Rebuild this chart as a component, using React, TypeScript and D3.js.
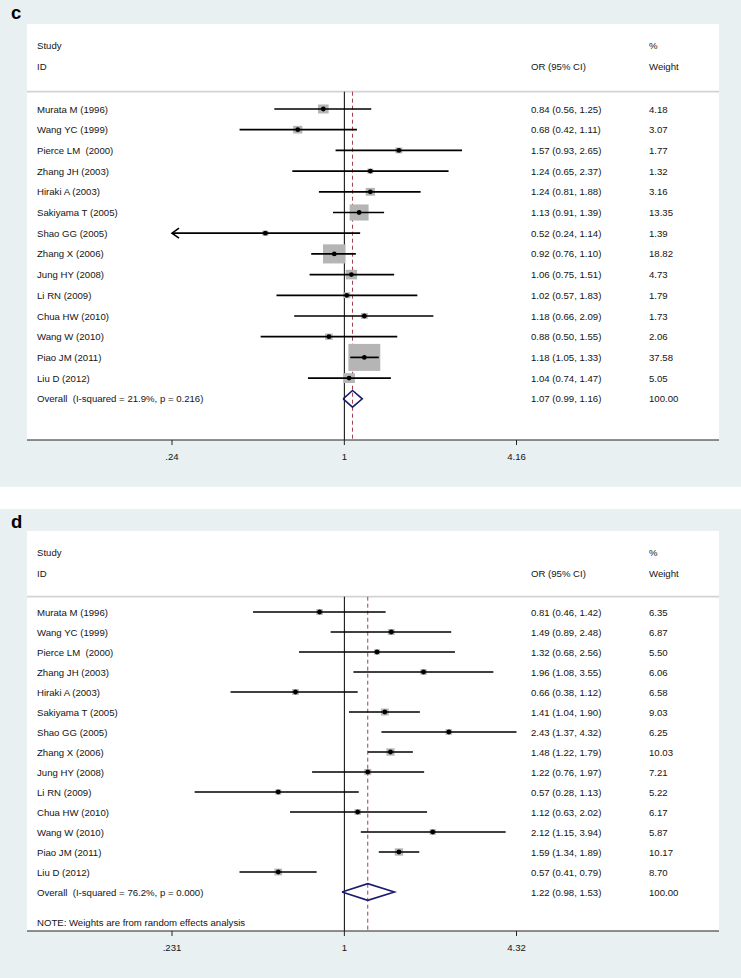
import React from "react";
import * as d3 from "d3";

// ---------- data ----------
const studies = [
  "Murata M (1996)",
  "Wang YC (1999)",
  "Pierce LM  (2000)",
  "Zhang JH (2003)",
  "Hiraki A (2003)",
  "Sakiyama T (2005)",
  "Shao GG (2005)",
  "Zhang X (2006)",
  "Jung HY (2008)",
  "Li RN (2009)",
  "Chua HW (2010)",
  "Wang W (2010)",
  "Piao JM (2011)",
  "Liu D (2012)",
];

const cOR = [0.84, 0.68, 1.57, 1.24, 1.24, 1.13, 0.52, 0.92, 1.06, 1.02, 1.18, 0.88, 1.18, 1.04];
const cLow = [0.56, 0.42, 0.93, 0.65, 0.81, 0.91, 0.238, 0.76, 0.75, 0.57, 0.66, 0.5, 1.05, 0.74];
const cHigh = [1.25, 1.11, 2.65, 2.37, 1.88, 1.39, 1.14, 1.1, 1.51, 1.83, 2.09, 1.55, 1.33, 1.47];
const cWeight = [4.18, 3.07, 1.77, 1.32, 3.16, 13.35, 1.39, 18.82, 4.73, 1.79, 1.73, 2.06, 37.58, 5.05];
const cOverall = [1.07, 0.99, 1.16];
const cOverallWeight = 100.0;
const cOverallLabel = "Overall  (I-squared = 21.9%, p = 0.216)";
const cTickValues = [0.24, 1, 4.16];
const cTickLabels = [".24", "1", "4.16"];

const dOR = [0.81, 1.49, 1.32, 1.96, 0.66, 1.41, 2.43, 1.48, 1.22, 0.57, 1.12, 2.12, 1.59, 0.57];
const dLow = [0.46, 0.89, 0.68, 1.08, 0.38, 1.04, 1.37, 1.22, 0.76, 0.28, 0.63, 1.15, 1.34, 0.41];
const dHigh = [1.42, 2.48, 2.56, 3.55, 1.12, 1.9, 4.32, 1.79, 1.97, 1.13, 2.02, 3.94, 1.89, 0.79];
const dWeight = [6.35, 6.87, 5.5, 6.06, 6.58, 9.03, 6.25, 10.03, 7.21, 5.22, 6.17, 5.87, 10.17, 8.7];
const dOverall = [1.22, 0.98, 1.53];
const dOverallWeight = 100.0;
const dOverallLabel = "Overall  (I-squared = 76.2%, p = 0.000)";
const dTickValues = [0.231, 1, 4.32];
const dTickLabels = [".231", "1", "4.32"];
const dNote = "NOTE: Weights are from random effects analysis";

// ---------- style ----------
const BG = "#e8f0f2";
const FONT = "'Liberation Sans', Arial, Helvetica, sans-serif";
const TXT = "#141414";
const FS = 9.6;
const BOX_X0 = 27;
const BOX_X1 = 719;
const COL_TEXT = 37;
const COL_OR = 531;
const COL_W = 649;
const PLOT_X0 = 172;
const PLOT_X1 = 516.5;

type PanelProps = {
  letter: string;
  top: number;
  bottom: number;
  whiteTop: number;
  studyY: number;
  idY: number;
  sepY: number;
  row0: number;
  rowStep: number;
  axisY: number;
  or: number[];
  low: number[];
  high: number[];
  weight: number[];
  overall: number[];
  overallWeight: number;
  overallLabel: string;
  tickValues: number[];
  tickLabels: string[];
  boxKW: number;
  boxKH: number;
  note?: string;
  noteY?: number;
};

function Panel(p: PanelProps) {
  const xmin = p.tickValues[0];
  const xmax = p.tickValues[p.tickValues.length - 1];
  const x = d3.scaleLog().domain([xmin, xmax]).range([PLOT_X0, PLOT_X1]);
  const y = (i: number) => p.row0 + p.rowStep * i;
  const bw = d3.scaleSqrt().domain([0, 100]).range([0, p.boxKW * 10]);
  const bh = d3.scaleSqrt().domain([0, 100]).range([0, p.boxKH * 10]);
  const fmt = d3.format(".2f");
  const overallY = y(studies.length);
  const [ov, ovL, ovH] = p.overall;
  const dh = 8.3;
  const diamond = d3.line()([
    [x(ovL), overallY],
    [x(ov), overallY - dh],
    [x(ovH), overallY],
    [x(ov), overallY + dh],
    [x(ovL), overallY],
  ]);
  const textProps = {
    fontFamily: FONT,
    fontSize: FS,
    fill: TXT,
    dominantBaseline: "central" as const,
    style: { whiteSpace: "pre" as const },
  };

  return (
    <g>
      <rect x={0} y={p.top} width={741} height={p.bottom - p.top} fill={BG} />
      <rect x={BOX_X0} y={p.whiteTop} width={BOX_X1 - BOX_X0} height={p.axisY - p.whiteTop} fill="#ffffff" />
      <text x={11} y={p.top + 18.5} fontFamily={FONT} fontWeight="bold" fontSize={18.5} fill="#000">
        {p.letter}
      </text>
      {/* header */}
      <text x={COL_TEXT} y={p.studyY} {...textProps}>Study</text>
      <text x={COL_TEXT} y={p.idY} {...textProps}>ID</text>
      <text x={COL_OR} y={p.idY} {...textProps}>OR (95% CI)</text>
      <text x={COL_W} y={p.studyY} {...textProps}>%</text>
      <text x={COL_W} y={p.idY} {...textProps}>Weight</text>
      <line x1={BOX_X0} x2={BOX_X1} y1={p.sepY} y2={p.sepY} stroke="#d3d3d3" strokeWidth={1.8} />

      {/* null line & overall line */}
      <line x1={x(1)} x2={x(1)} y1={p.sepY} y2={p.axisY} stroke="#000" strokeWidth={1} />
      <line
        x1={x(ov)}
        x2={x(ov)}
        y1={p.sepY}
        y2={p.axisY}
        stroke="#a2404e"
        strokeWidth={1}
        strokeDasharray="4,3"
      />

      {/* studies */}
      {studies.map((s, i) => {
        const cy = y(i);
        const w = bw(p.weight[i]);
        const h = bh(p.weight[i]);
        const lo = Math.max(p.low[i], xmin);
        const hi = Math.min(p.high[i], xmax);
        const arrowL = p.low[i] < xmin;
        return (
          <g key={s}>
            <rect x={x(p.or[i]) - w / 2} y={cy - h / 2} width={w} height={h} fill="#b5b5b5" />
            <line x1={x(lo)} x2={x(hi)} y1={cy} y2={cy} stroke="#000" strokeWidth={1.7} />
            {arrowL && (
              <path
                d={`M${x(lo) + 7},${cy - 5} L${x(lo)},${cy} L${x(lo) + 7},${cy + 5}`}
                fill="none"
                stroke="#000"
                strokeWidth={1.6}
              />
            )}
            <circle cx={x(p.or[i])} cy={cy} r={2.4} fill="#000" />
            <text x={COL_TEXT} y={cy} {...textProps}>{s}</text>
            <text x={COL_OR} y={cy} {...textProps}>
              {`${fmt(p.or[i])} (${fmt(p.low[i])}, ${fmt(p.high[i])})`}
            </text>
            <text x={COL_W} y={cy} {...textProps}>{fmt(p.weight[i])}</text>
          </g>
        );
      })}

      {/* overall */}
      <path d={diamond || ""} fill="none" stroke="#1c1c6e" strokeWidth={1.6} />
      <text x={COL_TEXT} y={overallY} {...textProps}>{p.overallLabel}</text>
      <text x={COL_OR} y={overallY} {...textProps}>
        {`${fmt(ov)} (${fmt(ovL)}, ${fmt(ovH)})`}
      </text>
      <text x={COL_W} y={overallY} {...textProps}>{fmt(p.overallWeight)}</text>
      {p.note && (
        <text x={COL_TEXT} y={p.noteY} {...textProps}>{p.note}</text>
      )}

      {/* axis */}
      <line x1={BOX_X0} x2={BOX_X1} y1={p.axisY} y2={p.axisY} stroke="#222" strokeWidth={1.2} />
      {p.tickValues.map((t, i) => (
        <g key={t}>
          <line x1={x(t)} x2={x(t)} y1={p.axisY} y2={p.axisY + 5} stroke="#222" strokeWidth={1} />
          <text x={x(t)} y={p.axisY + 16} textAnchor="middle" {...textProps}>
            {p.tickLabels[i]}
          </text>
        </g>
      ))}
    </g>
  );
}

export default function App() {
  return (
    <svg
      width={741}
      height={978}
      style={{ position: "absolute", left: 0, top: 0, display: "block", background: "#fff" }}
    >
      <Panel
        letter="c"
        top={0}
        bottom={487}
        whiteTop={24}
        studyY={45.7}
        idY={66.7}
        sepY={91.7}
        row0={109}
        rowStep={20.7}
        axisY={440}
        or={cOR}
        low={cLow}
        high={cHigh}
        weight={cWeight}
        overall={cOverall}
        overallWeight={cOverallWeight}
        overallLabel={cOverallLabel}
        tickValues={cTickValues}
        tickLabels={cTickLabels}
        boxKW={5.2}
        boxKH={4.4}
      />
      <Panel
        letter="d"
        top={509}
        bottom={978}
        whiteTop={531}
        studyY={552.7}
        idY={573.3}
        sepY={596.7}
        row0={612}
        rowStep={20}
        axisY={931}
        or={dOR}
        low={dLow}
        high={dHigh}
        weight={dWeight}
        overall={dOverall}
        overallWeight={dOverallWeight}
        overallLabel={dOverallLabel}
        tickValues={dTickValues}
        tickLabels={dTickLabels}
        boxKW={2.6}
        boxKH={2.3}
        note={dNote}
        noteY={922.5}
      />
    </svg>
  );
}
